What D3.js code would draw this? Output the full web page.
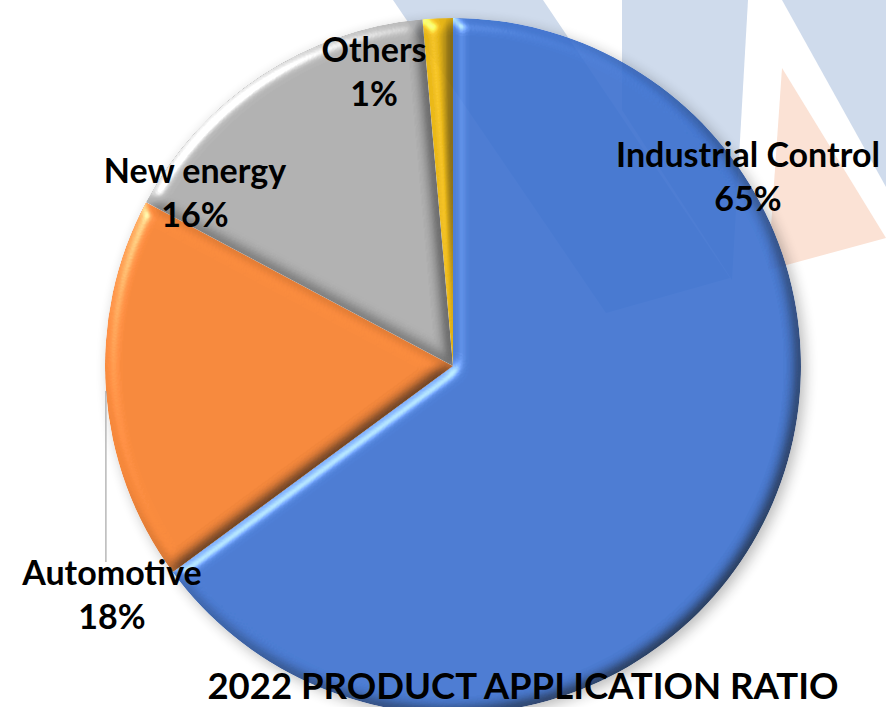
<!DOCTYPE html>
<html>
<head>
<meta charset="utf-8">
<script src="https://cdn.jsdelivr.net/npm/d3@7"></script>
<style>
  body { margin: 0; background: #fff; }
  text { font-family: Lato, "Open Sans", sans-serif; font-weight: 700; fill: #000; }
</style>
</head>
<body>
<svg id="chart"></svg>
<script>
// data
var categories = ["Industrial Control", "Automotive", "New energy", "Others"];
var shares = [64.9, 17.9, 15.8, 1.4];
var colors = ["#366ccc", "#f47a26", "#a7a7a7", "#e5ae00"];
var chartTitle = "2022 PRODUCT APPLICATION RATIO";

var width = 886, height = 707;
var cx = 453, cy = 366, radius = 348;

// label anchors, offset of the first baseline from the pie centre
var labelAt = {
    "Industrial Control": [295, -199],
    "Automotive": [-341, 219],
    "New energy": [-258, -183],
    "Others": [-79, -304]
};
var lineGap = 44;

var svg = d3.select("#chart")
    .attr("width", width)
    .attr("height", height);

var defs = svg.append("defs");

// bevel look for each slice
var f = defs.append("filter")
    .attr("id", "bevel")
    .attr("x", "-5%").attr("y", "-5%")
    .attr("width", "110%").attr("height", "110%")
    .attr("color-interpolation-filters", "sRGB");
f.append("feGaussianBlur").attr("in", "SourceAlpha").attr("stdDeviation", 7).attr("result", "blur");
f.append("feDiffuseLighting")
    .attr("in", "blur").attr("surfaceScale", 6).attr("diffuseConstant", 1.2)
    .attr("lighting-color", "#fff").attr("result", "diff")
    .append("feDistantLight").attr("azimuth", 225).attr("elevation", 56);
f.append("feComposite").attr("in", "SourceGraphic").attr("in2", "diff")
    .attr("operator", "arithmetic").attr("k1", 1).attr("result", "shade");
f.append("feSpecularLighting")
    .attr("in", "blur").attr("surfaceScale", 6).attr("specularConstant", 0.5)
    .attr("specularExponent", 35).attr("lighting-color", "#fff").attr("result", "spec")
    .append("feDistantLight").attr("azimuth", 225).attr("elevation", 40);
f.append("feComposite").attr("in", "spec").attr("in2", "SourceAlpha").attr("operator", "in").attr("result", "specIn");
f.append("feComposite").attr("in", "shade").attr("in2", "specIn")
    .attr("operator", "arithmetic").attr("k2", 1).attr("k3", 1).attr("result", "lit");
f.append("feComposite").attr("in", "lit").attr("in2", "SourceAlpha").attr("operator", "in");

var sh = defs.append("filter")
    .attr("id", "shadow")
    .attr("x", "-10%").attr("y", "-10%")
    .attr("width", "120%").attr("height", "120%");
sh.append("feDropShadow").attr("dx", 4).attr("dy", 4).attr("stdDeviation", 7)
    .attr("flood-color", "#000").attr("flood-opacity", 0.3);

// faint logo watermark behind the chart
var watermark = svg.append("g").attr("class", "watermark");
[
    [[393, 0], [543, 0], [730, 278], [606, 313]],
    [[622, 0], [748, 0], [732, 280], [622, 110]],
    [[782, 0], [886, 0], [886, 187]]
].forEach(function (p) {
    watermark.append("polygon").attr("points", p.join(" ")).attr("fill", "#cfdbec");
});
watermark.append("polygon")
    .attr("points", [[782, 68], [768, 270], [886, 238]].join(" "))
    .attr("fill", "#fbe2d5");

var pie = d3.pie().sort(null).value(function (d) { return d; });
var arc = d3.arc().innerRadius(0).outerRadius(radius);
var arcs = pie(shares);
var total = d3.sum(shares);

var g = svg.append("g")
    .attr("transform", "translate(" + cx + "," + cy + ")");

var slices = g.append("g")
    .attr("filter", "url(#shadow)")
    .attr("opacity", 0.9);

slices.selectAll(".slice")
    .data(arcs)
    .enter()
    .append("path")
    .attr("class", "slice")
    .attr("d", arc)
    .attr("fill", function (d, i) { return colors[i]; })
    .attr("filter", "url(#bevel)");

// leader line for Automotive
var autoArc = arcs[1];
var mid = (autoArc.startAngle + autoArc.endAngle) / 2;
var edge = [Math.sin(mid) * radius, -Math.cos(mid) * radius];
g.append("line")
    .attr("x1", edge[0]).attr("y1", edge[1])
    .attr("x2", edge[0]).attr("y2", labelAt["Automotive"][1] - 23)
    .attr("stroke", "#a6a6a6")
    .attr("stroke-width", 1.2);

var labels = g.selectAll(".label")
    .data(arcs)
    .enter()
    .append("text")
    .attr("class", "label")
    .attr("text-anchor", "middle")
    .style("font-size", "34px");

labels.append("tspan")
    .attr("x", function (d, i) { return labelAt[categories[i]][0]; })
    .attr("y", function (d, i) { return labelAt[categories[i]][1]; })
    .text(function (d, i) { return categories[i]; });

labels.append("tspan")
    .attr("x", function (d, i) { return labelAt[categories[i]][0]; })
    .attr("y", function (d, i) { return labelAt[categories[i]][1] + lineGap; })
    .text(function (d) { return Math.round(d.value / total * 100) + "%"; });

svg.append("text")
    .attr("x", 523)
    .attr("y", 699)
    .attr("text-anchor", "middle")
    .style("font-size", "36.5px")
    .text(chartTitle);
</script>
</body>
</html>
